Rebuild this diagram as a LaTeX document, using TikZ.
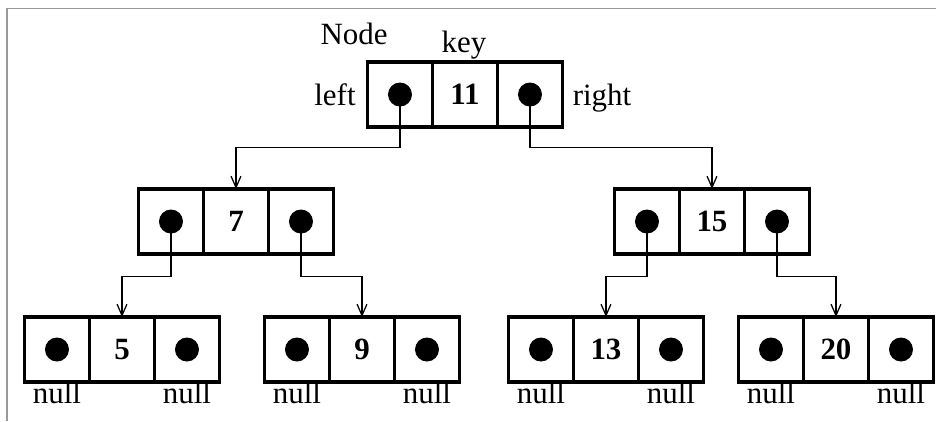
\documentclass[tikz,border=0pt]{standalone}
\usepackage{fontspec}
\setmainfont{Liberation Serif}
\usetikzlibrary{positioning,arrows.meta}
\definecolor{framegray}{HTML}{999999}
% one tree node: left pointer, key, right pointer
\newcommand{\bstnode}[3]{%
  \node[cell] (#1-k) at (#2) {\textbf{#3}};
  \node[cell,left=0pt of #1-k] (#1-l) {};
  \node[cell,right=0pt of #1-k] (#1-r) {};
  \node[ptrdot] (#1-ld) at (#1-l) {};
  \node[ptrdot] (#1-rd) at (#1-r) {};
}

\begin{document}
\begin{tikzpicture}[every node/.style={font=\fontsize{22}{26}\selectfont}]
      \tikzstyle{cell}=[draw,line width=2.2pt,minimum size=1.625cm,inner sep=0pt,outer sep=0pt];
      \tikzstyle{ptrdot}=[circle,fill,minimum size=0.6cm,inner sep=0pt];
      \tikzstyle{link}=[-{Straight Barb[length=8pt,width=7pt]},line width=0.9pt];
      \useasboundingbox (-11.625,-8.1625) rectangle (11.775,2.3625);
      \draw[framegray,line width=1.2pt] (-11.4425,-8.1625) |- (11.775,2.1525);
      % tree
      \bstnode{n11}{0,0}{11}
      \bstnode{n7}{-5.725,-3.175}{7}
      \bstnode{n15}{6.175,-3.175}{15}
      \bstnode{n5}{-8.575,-6.375}{5}
      \bstnode{n9}{-2.575,-6.375}{9}
      \bstnode{n13}{3.525,-6.375}{13}
      \bstnode{n20}{9.275,-6.375}{20}
      \draw[link] (n11-ld.center) -- ++(0,-1.325) -| (n7-k.north);
      \draw[link] (n11-rd.center) -- ++(0,-1.325) -| (n15-k.north);
      \draw[link] (n7-ld.center) -- ++(0,-1.375) -| (n5-k.north);
      \draw[link] (n7-rd.center) -- ++(0,-1.375) -| (n9-k.north);
      \draw[link] (n15-ld.center) -- ++(0,-1.375) -| (n13-k.north);
      \draw[link] (n15-rd.center) -- ++(0,-1.375) -| (n20-k.north);
      % labels
      \node[anchor=base] (nodelbl) at (-2.775,1.255) {Node};
      \node[anchor=base] (keylbl) at (-0.025,1.045) {key};
      \node[anchor=base] (leftlbl) at (-3.25,-0.2625) {left};
      \node[anchor=base] (rightlbl) at (3.425,-0.2625) {right};
      \coordinate (nullrow) at (0,-7.72);
      \foreach \k in {5,9,13,20} {
        \node[anchor=base] (null\k l) at (n\k-ld |- nullrow) {null};
        \node[anchor=base] (null\k r) at (n\k-rd |- nullrow) {null};
      }
    \end{tikzpicture}
\end{document}
